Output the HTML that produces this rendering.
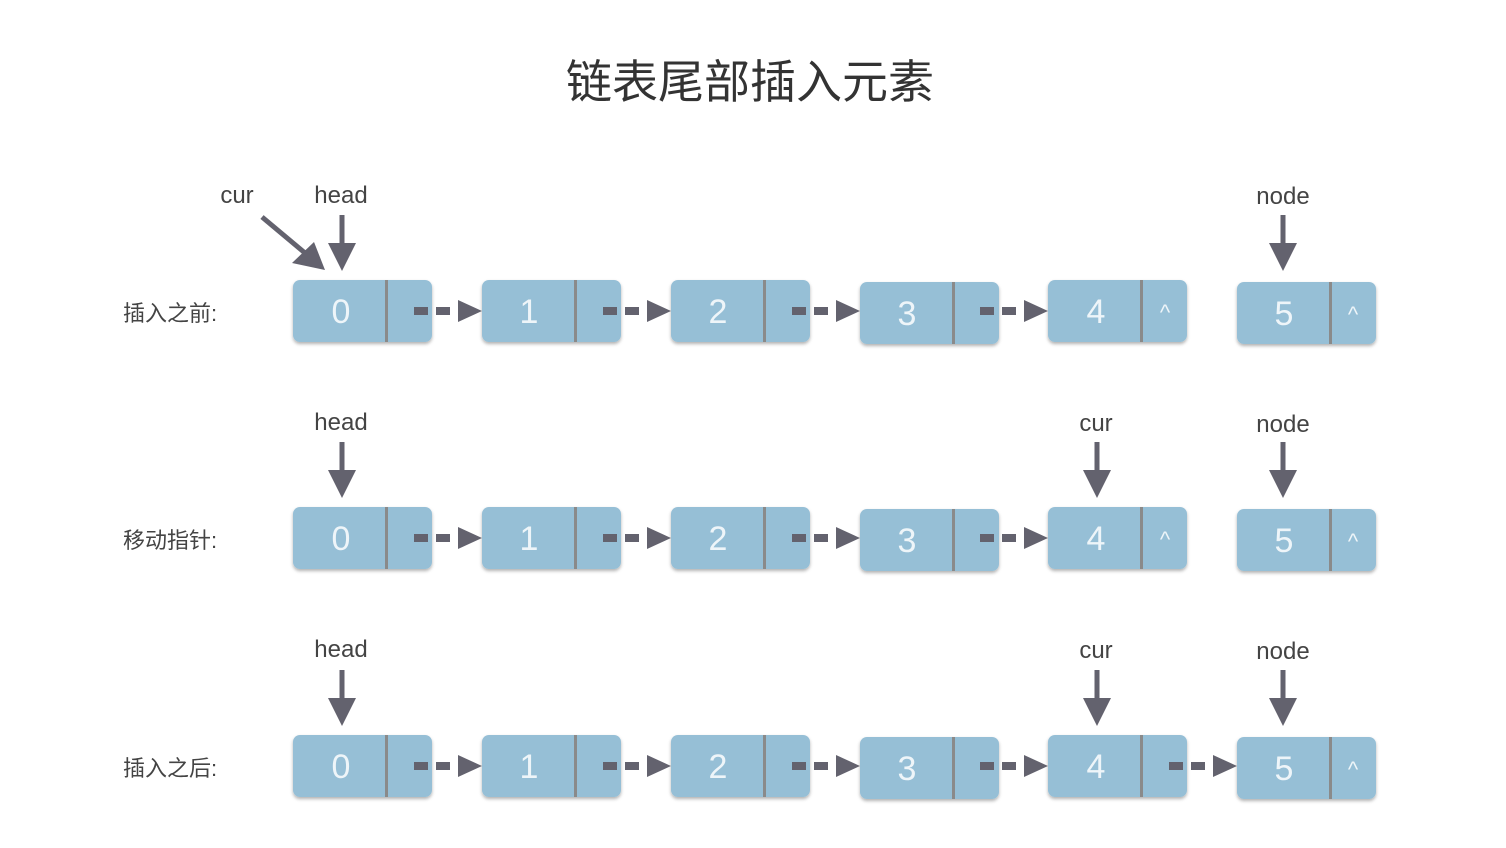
<!DOCTYPE html>
<html><head><meta charset="utf-8"><style>
html,body{margin:0;padding:0;background:#fff;}
svg{display:block;}
text{font-family:"Liberation Sans","Noto Sans CJK SC",sans-serif;}
</style></head><body>
<svg width="1506" height="848" viewBox="0 0 1506 848" xmlns="http://www.w3.org/2000/svg">
<defs>
<filter id="sh" x="-10%" y="-10%" width="120%" height="140%"><feDropShadow dx="0" dy="2" stdDeviation="1.5" flood-color="#000" flood-opacity="0.3"/></filter>
<g id="dash"><rect x="0" y="-4" width="14" height="8" fill="#63626e"/><rect x="22" y="-4" width="14" height="8" fill="#63626e"/><polygon points="44,-11 68,0 44,11" fill="#63626e"/></g>
<g id="down"><rect x="-2.5" y="0" width="5" height="30" fill="#63626e"/><polygon points="-14,28 14,28 0,56" fill="#63626e"/></g>
</defs>
<text x="750" y="98" font-size="46" text-anchor="middle" fill="#333">链表尾部插入元素</text>

<g font-size="24" fill="#444" text-anchor="middle">
<text x="237" y="203">cur</text><text x="341" y="203">head</text><text x="1283" y="204">node</text>
<text x="341" y="430">head</text><text x="1096" y="431">cur</text><text x="1283" y="432">node</text>
<text x="341" y="657">head</text><text x="1096" y="658">cur</text><text x="1283" y="659">node</text>
</g>
<g font-size="22" fill="#444">
<text x="123" y="321">插入之前:</text>
<text x="123" y="548">移动指针:</text>
<text x="123" y="776">插入之后:</text>
</g>

<!-- pointer arrows -->
<use href="#down" x="342" y="215"/>
<use href="#down" x="1283" y="215"/>
<g><line x1="262" y1="217" x2="305" y2="253" stroke="#63626e" stroke-width="5"/><polygon points="292,263 314,242 325,270" fill="#63626e"/></g>
<use href="#down" x="342" y="442"/>
<use href="#down" x="1097" y="442"/>
<use href="#down" x="1283" y="442"/>
<use href="#down" x="342" y="670"/>
<use href="#down" x="1097" y="670"/>
<use href="#down" x="1283" y="670"/>

<!-- nodes -->
<g id="rows" font-size="34" fill="#eaf3f8" text-anchor="middle">
</g>
<script>
</script>
<!-- Row 1 -->
<g filter="url(#sh)" fill="#96bfd6">
<rect x="293" y="280" width="139" height="62" rx="7"/><rect x="482" y="280" width="139" height="62" rx="7"/><rect x="671" y="280" width="139" height="62" rx="7"/><rect x="860" y="282" width="139" height="62" rx="7"/><rect x="1048" y="280" width="139" height="62" rx="7"/><rect x="1237" y="282" width="139" height="62" rx="7"/>
<rect x="293" y="507" width="139" height="62" rx="7"/><rect x="482" y="507" width="139" height="62" rx="7"/><rect x="671" y="507" width="139" height="62" rx="7"/><rect x="860" y="509" width="139" height="62" rx="7"/><rect x="1048" y="507" width="139" height="62" rx="7"/><rect x="1237" y="509" width="139" height="62" rx="7"/>
<rect x="293" y="735" width="139" height="62" rx="7"/><rect x="482" y="735" width="139" height="62" rx="7"/><rect x="671" y="735" width="139" height="62" rx="7"/><rect x="860" y="737" width="139" height="62" rx="7"/><rect x="1048" y="735" width="139" height="62" rx="7"/><rect x="1237" y="737" width="139" height="62" rx="7"/>
</g>
<g fill="#8a8a8a">
<rect x="385" y="280" width="3" height="62"/><rect x="574" y="280" width="3" height="62"/><rect x="763" y="280" width="3" height="62"/><rect x="952" y="282" width="3" height="62"/><rect x="1140" y="280" width="3" height="62"/><rect x="1329" y="282" width="3" height="62"/>
<rect x="385" y="507" width="3" height="62"/><rect x="574" y="507" width="3" height="62"/><rect x="763" y="507" width="3" height="62"/><rect x="952" y="509" width="3" height="62"/><rect x="1140" y="507" width="3" height="62"/><rect x="1329" y="509" width="3" height="62"/>
<rect x="385" y="735" width="3" height="62"/><rect x="574" y="735" width="3" height="62"/><rect x="763" y="735" width="3" height="62"/><rect x="952" y="737" width="3" height="62"/><rect x="1140" y="735" width="3" height="62"/><rect x="1329" y="737" width="3" height="62"/>
</g>
<g font-size="34" fill="#eef5f9" text-anchor="middle">
<text x="341" y="323">0</text><text x="529" y="323">1</text><text x="718" y="323">2</text><text x="907" y="325">3</text><text x="1096" y="323">4</text><text x="1284" y="325">5</text>
<text x="341" y="550">0</text><text x="529" y="550">1</text><text x="718" y="550">2</text><text x="907" y="552">3</text><text x="1096" y="550">4</text><text x="1284" y="552">5</text>
<text x="341" y="778">0</text><text x="529" y="778">1</text><text x="718" y="778">2</text><text x="907" y="780">3</text><text x="1096" y="778">4</text><text x="1284" y="780">5</text>
</g>
<g font-size="22" fill="#eef5f9" text-anchor="middle">
<text x="1165" y="320">^</text><text x="1353" y="322">^</text>
<text x="1165" y="547">^</text><text x="1353" y="549">^</text>
<text x="1353" y="777">^</text>
</g>
<!-- dashed links -->
<use href="#dash" x="414" y="311"/><use href="#dash" x="603" y="311"/><use href="#dash" x="792" y="311"/><use href="#dash" x="980" y="311"/>
<use href="#dash" x="414" y="538"/><use href="#dash" x="603" y="538"/><use href="#dash" x="792" y="538"/><use href="#dash" x="980" y="538"/>
<use href="#dash" x="414" y="766"/><use href="#dash" x="603" y="766"/><use href="#dash" x="792" y="766"/><use href="#dash" x="980" y="766"/><use href="#dash" x="1169" y="766"/>
</svg>
</body></html>
